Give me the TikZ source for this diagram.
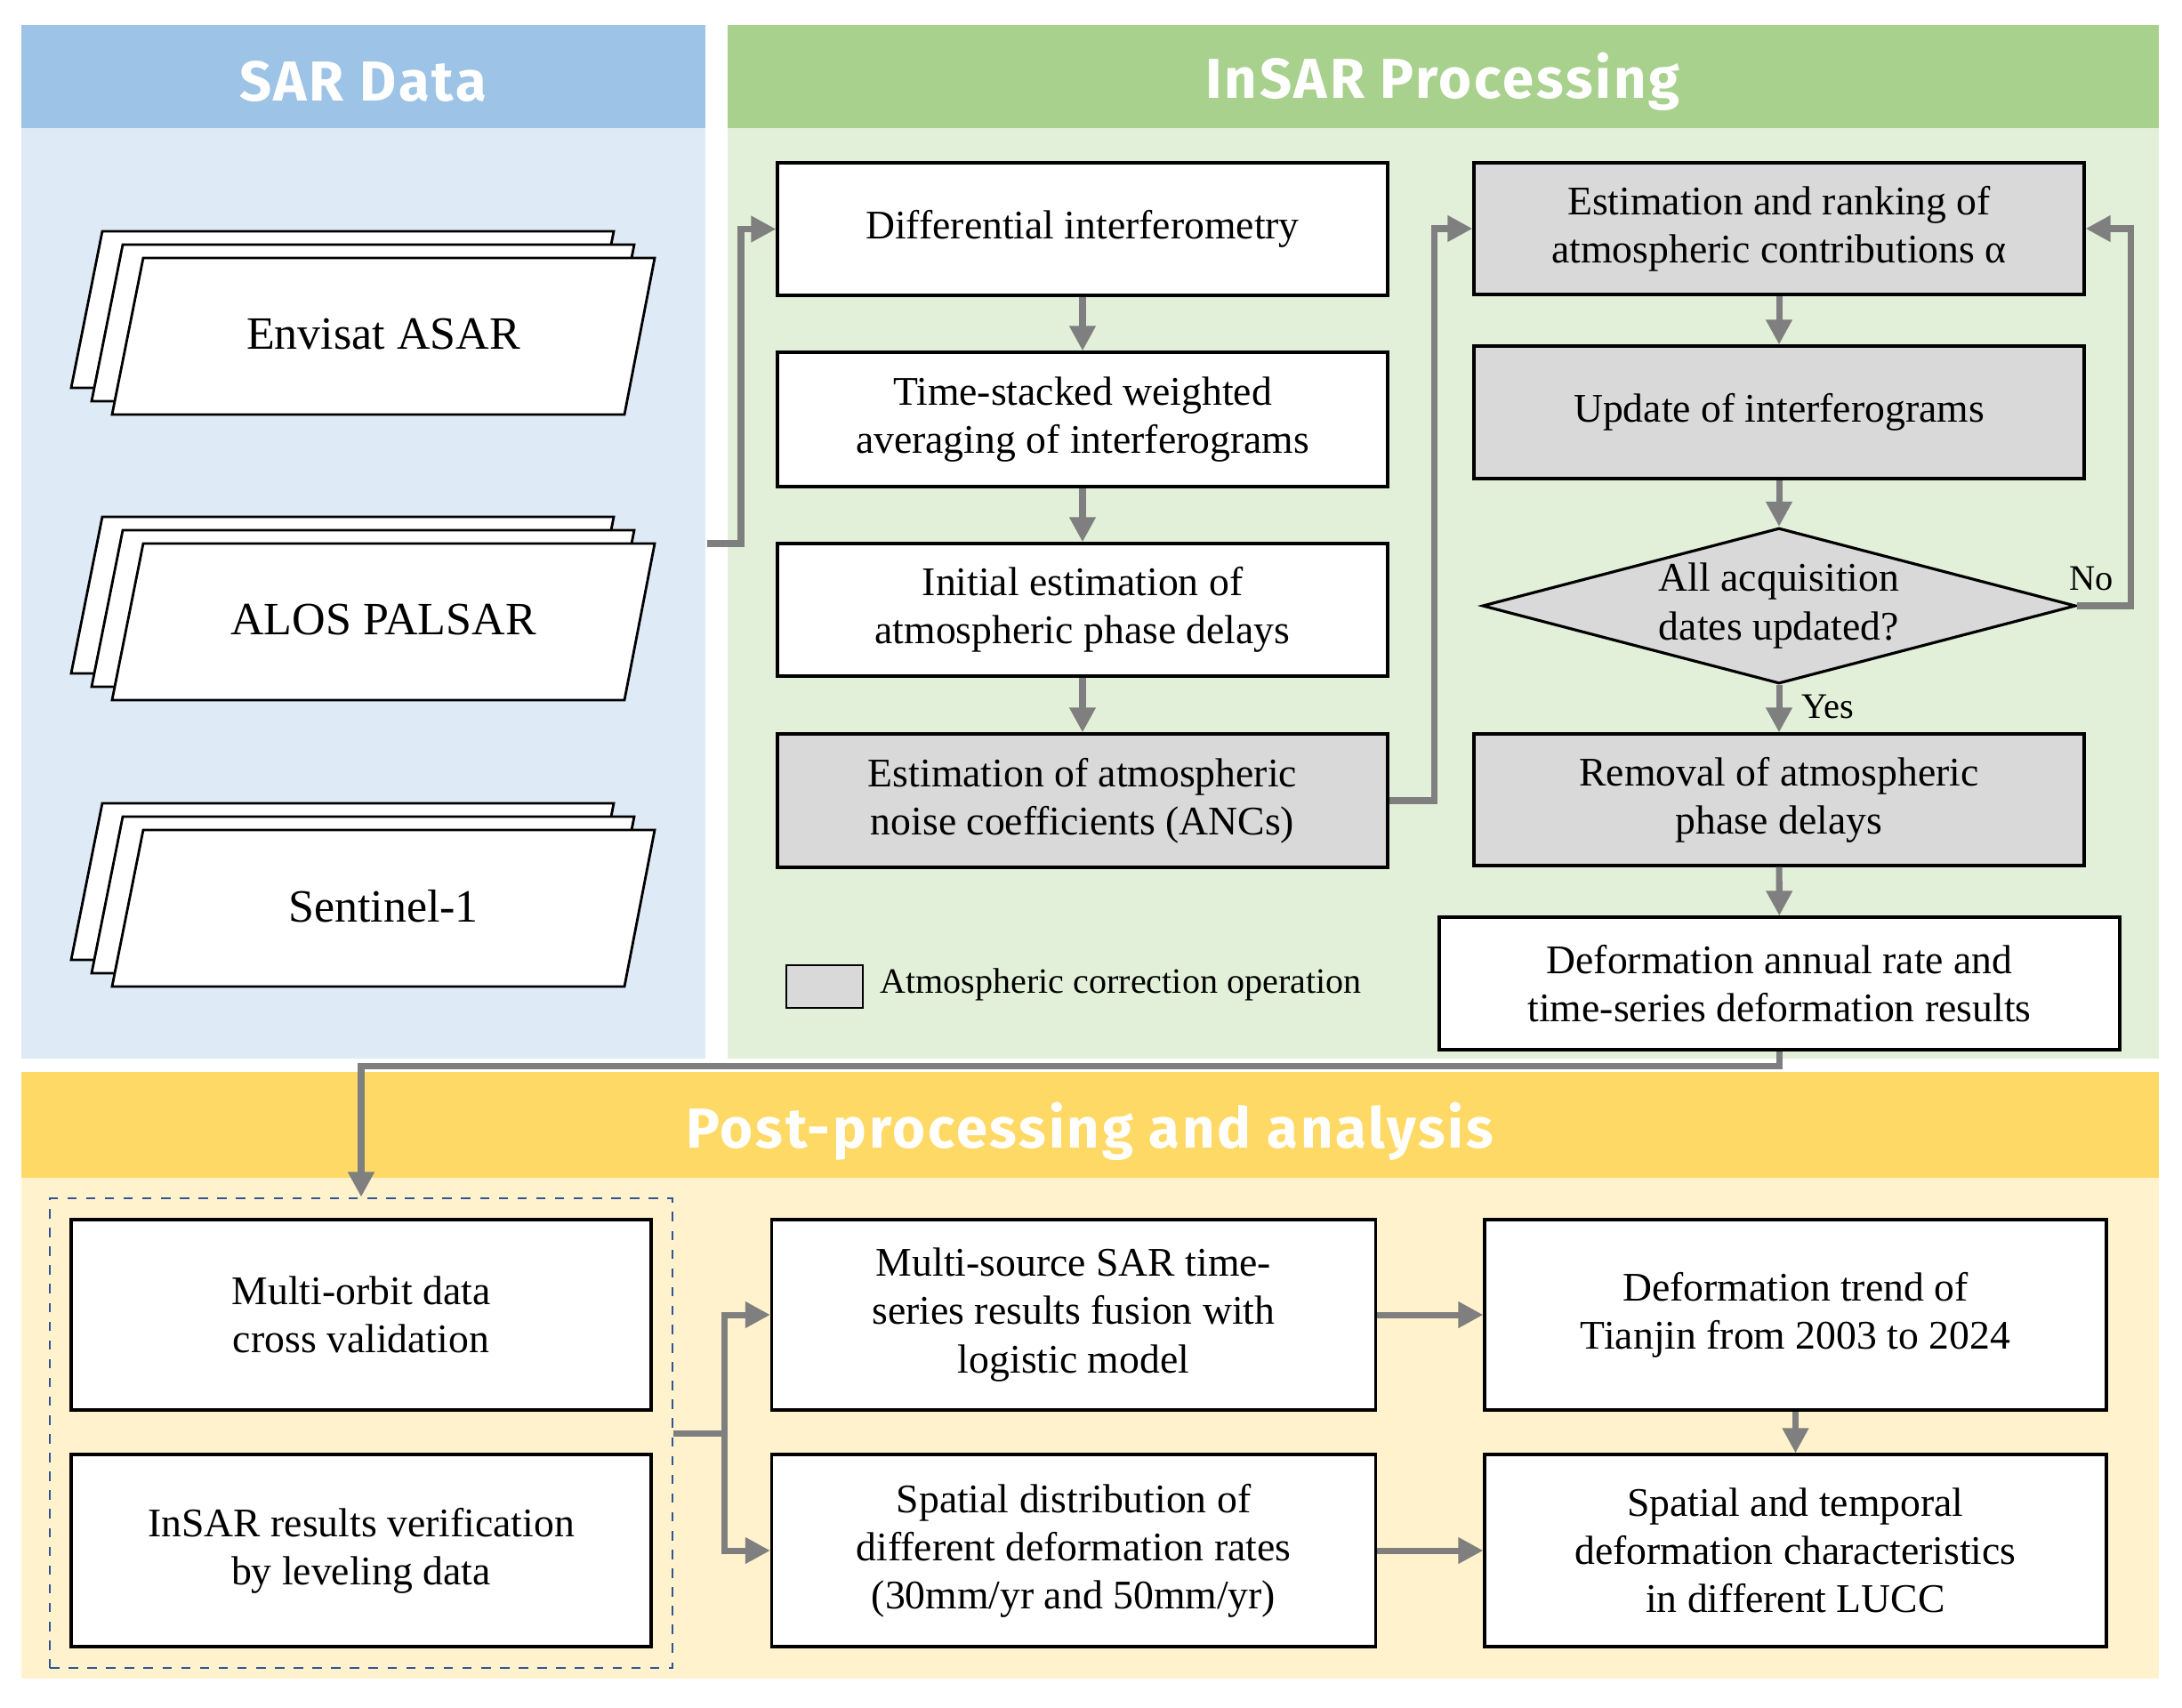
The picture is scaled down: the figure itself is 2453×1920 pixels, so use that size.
\documentclass[tikz,border=0pt]{standalone}
\usepackage{fontspec}
\setmainfont{Liberation Serif}
\newfontfamily\hdrfont{Fira Sans}[LetterSpace=4.5]
\usetikzlibrary{arrows.meta,shapes.geometric,calc}
\definecolor{sarhead}{HTML}{9DC3E6}
\definecolor{sarbody}{HTML}{DEEBF7}
\definecolor{inhead}{HTML}{A9D18E}
\definecolor{inbody}{HTML}{E2F0D9}
\definecolor{pphead}{HTML}{FFD966}
\definecolor{ppbody}{HTML}{FFF2CC}
\definecolor{boxgray}{HTML}{D9D9D9}
\definecolor{arrgray}{HTML}{7F7F7F}
\definecolor{dashblue}{HTML}{2F5597}
\newcommand\bxf{\fontsize{13}{15.4}\selectfont}
\newcommand\parf{\fontsize{14.8}{17}\selectfont}
\newcommand\hdf{\hdrfont\bfseries\fontsize{18}{22}\selectfont}
\begin{document}
\begin{tikzpicture}[x=0.1mm,y=-0.1mm,
  box/.style={draw=black, line width=0.9pt, fill=white, align=center, inner sep=2pt, font=\bxf},
  gbox/.style={box, fill=boxgray},
  colA/.style={minimum width=68.6mm},
  arr/.style={draw=arrgray, line width=2pt, -{Triangle[length=8pt,width=8pt]}},
  par/.style={draw=black, line width=0.8pt, fill=white, line join=miter},
  hdr/.style={text=white, font=\hdf},
  lbl/.style={font=\fontsize{11.5}{13}\selectfont}]
\useasboundingbox (0,0) rectangle (2453,1920);
\fill[white] (0,0) rectangle (2453,1920);
% panels
\fill[sarhead] (24,28) rectangle (793,144);
\fill[sarbody] (24,144) rectangle (793,1190);
\fill[inhead] (818,28) rectangle (2427,144);
\fill[inbody] (818,144) rectangle (2427,1190);
\fill[pphead] (24,1205) rectangle (2427,1324);
\fill[ppbody] (24,1324) rectangle (2427,1887);
\node[hdr] (hsar) at (408,92) {SAR Data};
\node[hdr] (hin) at (1622,92) {InSAR Processing};
\node[hdr] (hpp) at (1225,1272) {Post-processing and analysis};
% SAR stacks
\foreach \dy/\nm/\tx in {0/env/Envisat ASAR, 321/alos/ALOS PALSAR, 643/sen/Sentinel-1}{
  \begin{scope}[shift={(0,\dy)}]
    \draw[par] (115,260) -- (690,260) -- (655,436) -- (80,436) -- cycle;
    \draw[par] (138,275) -- (713,275) -- (678,451) -- (103,451) -- cycle;
    \draw[par] (161,290) -- (736,290) -- (702,466) -- (126,466) -- cycle;
    \node[font=\parf] (\nm) at (431,376) {\tx};
  \end{scope}
}
% InSAR column 1
\node[box, colA, minimum height=14.9mm] (B1) at (1217,257.5) {Differential interferometry};
\node[box, colA, minimum height=15.1mm] (B2) at (1217,471.5) {Time-stacked weighted\\averaging of interferograms};
\node[box, colA, minimum height=14.9mm] (B3) at (1217,685.5) {Initial estimation of\\atmospheric phase delays};
\node[gbox, colA, minimum height=15.0mm] (B4) at (1217,900) {Estimation of atmospheric\\noise coefficients (ANCs)};
% InSAR column 2
\node[gbox, colA, minimum height=14.8mm] (C1) at (2000,257) {Estimation and ranking of\\atmospheric contributions α};
\node[gbox, colA, minimum height=14.9mm] (C2) at (2000,463.5) {Update of interferograms};
\node[diamond, draw=black, line width=0.9pt, fill=boxgray, align=center, inner sep=0pt, aspect=3.8,
      minimum width=66.7mm, minimum height=17.5mm, font=\bxf] (D) at (2000,681) {All acquisition\\dates updated?};
\node[gbox, colA, minimum height=14.8mm] (C4) at (2000,899) {Removal of atmospheric\\phase delays};
\node[box, minimum width=76.5mm, minimum height=14.9mm] (Def) at (2000.5,1105.5) {Deformation annual rate and\\time-series deformation results};
% legend
\node[draw=black, line width=0.6pt, fill=boxgray, minimum width=8.6mm, minimum height=4.8mm, inner sep=0pt] (leg) at (927,1109) {};
\node[anchor=west, font=\fontsize{11.4}{13}\selectfont, inner sep=0pt] (legt) at (989,1107) {Atmospheric correction operation};
% post-processing
\node[draw=dashblue, dashed, line width=0.8pt, minimum width=70mm, minimum height=52.8mm, inner sep=0pt] (dash) at (406,1611) {};
\node[box, minimum width=65.2mm, minimum height=21.4mm] (L1) at (406,1478) {Multi-orbit data\\cross validation};
\node[box, minimum width=65.2mm, minimum height=21.6mm] (L2) at (406,1743) {InSAR results verification\\by leveling data};
\node[box, minimum width=67.9mm, minimum height=21.4mm] (M1) at (1207,1478) {Multi-source SAR time-\\series results fusion with\\logistic model};
\node[box, minimum width=67.9mm, minimum height=21.6mm] (M2) at (1207,1743) {Spatial distribution of\\different deformation rates\\(30mm/yr and 50mm/yr)};
\node[box, minimum width=69.9mm, minimum height=21.4mm] (R1) at (2018.5,1478) {Deformation trend of\\Tianjin from 2003 to 2024};
\node[box, minimum width=69.9mm, minimum height=21.6mm] (R2) at (2018.5,1743) {Spatial and temporal\\deformation characteristics\\in different LUCC};
% connectors
\coordinate (sarout) at (795,611);
\coordinate (k1) at (833,611);
\draw[arr] (sarout) -- (k1) |- (B1.west);
\draw[arr] (B1) -- (B2);
\draw[arr] (B2) -- (B3);
\draw[arr] (B3) -- (B4);
\draw[arr] (B4.east) -- ++(51,0) |- (C1.west);
\draw[arr] (C1) -- (C2);
\draw[arr] (C2) -- (D.north);
\draw[arr] (D.south) -- (C4) node[pos=0.45, right, lbl, xshift=1mm] (yes) {Yes};
\draw[arr] (D.east) -- ++(60,0) |- (C1.east);
\node[lbl] (no) at (2351,650) {No};
\draw[arr] (C4) -- (Def);
\draw[arr] (Def.south) -- ++(0,17) -| (dash.north);
\draw[arr] (dash.east) -- ++(57,0) |- (M1.west);
\draw[arr] (dash.east) -- ++(57,0) |- (M2.west);
\draw[arr] (M1) -- (R1);
\draw[arr] (M2) -- (R2);
\draw[arr] (R1) -- (R2);
\end{tikzpicture}
\end{document}
